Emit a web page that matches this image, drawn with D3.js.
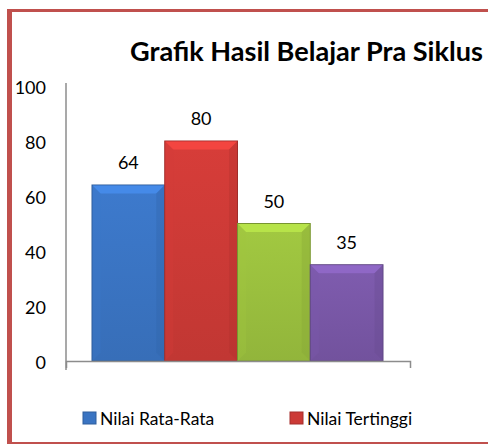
<!DOCTYPE html>
<html>
<head>
<meta charset="utf-8">
<script src="https://cdn.jsdelivr.net/npm/d3@7"></script>
<style>
  body { margin: 0; background: #fff; }
  text { font-family: Lato, "Open Sans", sans-serif; fill: #000; }
</style>
</head>
<body>
<div id="chart"></div>
<script>
// data
var barValues = [64, 80, 50, 35];
var barColors = ["#3a74c2", "#cc3a36", "#9abf3e", "#7857a6"];
var legendLabels = ["Nilai Rata-Rata", "Nilai Tertinggi"];
var yTicks = [0, 20, 40, 60, 80, 100];
var title = "Grafik Hasil Belajar Pra Siklus";

var W = 488, H = 444;
var svg = d3.select("#chart").append("svg")
  .attr("width", W).attr("height", H);

// frame (right side is cut off in the original)
svg.append("rect").attr("x", 7).attr("y", 9).attr("width", 5).attr("height", 435).attr("fill", "#c0504d");
svg.append("rect").attr("x", 7).attr("y", 9).attr("width", 481).attr("height", 3).attr("fill", "#c0504d");
svg.append("rect").attr("x", 7).attr("y", 442).attr("width", 481).attr("height", 2).attr("fill", "#c0504d");

// title, sized to the width it takes in the reference
var t = svg.append("text")
  .attr("x", 130).attr("y", 61)
  .style("font-weight", "bold")
  .style("font-size", "22px")
  .text(title);
var tw = t.node().getComputedTextLength();
t.style("font-size", (22 * 353 / tw) + "px");

var y = d3.scaleLinear().domain([0, 100]).range([361, 86]);
var x = d3.scaleBand().domain(d3.range(barValues.length)).range([92, 383]).padding(0);

// bevel gradients
var defs = svg.append("defs");
barColors.forEach(function(c, i){
  var g = defs.append("linearGradient").attr("id", "face" + i)
    .attr("x1", 0).attr("x2", 0).attr("y1", 0).attr("y2", 1);
  g.append("stop").attr("offset", "0%").attr("stop-color", d3.color(c).brighter(0.15));
  g.append("stop").attr("offset", "100%").attr("stop-color", d3.color(c).darker(0.15));
});

var bars = svg.append("g").selectAll("g")
  .data(barValues)
  .enter().append("g");

bars.append("rect")
  .attr("x", function(d, i){ return x(i); })
  .attr("y", function(d){ return y(d); })
  .attr("width", x.bandwidth())
  .attr("height", function(d){ return y(0) - y(d); })
  .attr("fill", function(d, i){ return "url(#face" + i + ")"; })
  .attr("stroke", function(d, i){ return d3.color(barColors[i]).darker(0.7); })
  .attr("stroke-width", 1);

// top bevel
bars.append("path")
  .attr("d", function(d, i){
    var x0 = x(i) + 0.5, x1 = x(i) + x.bandwidth() - 0.5, y0 = y(d) + 0.5, b = 8;
    return "M" + x0 + "," + y0 + "L" + x1 + "," + y0 + "L" + (x1 - b) + "," + (y0 + b) + "L" + (x0 + b) + "," + (y0 + b) + "Z";
  })
  .attr("fill", function(d, i){ return d3.color(barColors[i]).brighter(0.55); })
  .attr("opacity", 0.85);

// side bevels
bars.append("path")
  .attr("d", function(d, i){
    var x0 = x(i) + 0.5, y0 = y(d) + 0.5, b = 8, yb = y(0) - 0.5;
    return "M" + x0 + "," + y0 + "L" + (x0 + b) + "," + (y0 + b) + "L" + (x0 + b) + "," + (yb - b) + "L" + x0 + "," + yb + "Z";
  })
  .attr("fill", function(d, i){ return d3.color(barColors[i]).brighter(0.1); })
  .attr("opacity", 0.35);
bars.append("path")
  .attr("d", function(d, i){
    var x1 = x(i) + x.bandwidth() - 0.5, y0 = y(d) + 0.5, b = 8, yb = y(0) - 0.5;
    return "M" + x1 + "," + y0 + "L" + (x1 - b) + "," + (y0 + b) + "L" + (x1 - b) + "," + (yb - b) + "L" + x1 + "," + yb + "Z";
  })
  .attr("fill", function(d, i){ return d3.color(barColors[i]).darker(0.4); })
  .attr("opacity", 0.35);

// value labels
bars.append("text")
  .attr("x", function(d, i){ return x(i) + x.bandwidth() / 2; })
  .attr("y", function(d){ return y(d) - 16; })
  .attr("text-anchor", "middle")
  .style("font-size", "18px")
  .text(function(d){ return d; });

// y axis
var yAxis = svg.append("g")
  .attr("transform", "translate(66,0)")
  .call(d3.axisLeft(y).tickValues(yTicks).tickSize(0).tickPadding(20));
yAxis.select(".domain").attr("stroke", "#8c8c8c").attr("stroke-width", 1.5).attr("d", "M0,83V370");
yAxis.selectAll("text").style("font-size", "18px").style("font-family", "Lato, sans-serif").attr("dy", "0.4em");

// x axis
var xAxis = svg.append("g")
  .attr("transform", "translate(0," + y(0) + ")")
  .call(d3.axisBottom(d3.scaleLinear().range([66, 410])).tickValues([]).tickSizeOuter(7));
xAxis.select(".domain").attr("stroke", "#8c8c8c").attr("stroke-width", 1.5);

// legend
var lg = svg.append("g").selectAll("g")
  .data(legendLabels)
  .enter().append("g")
  .attr("transform", function(d, i){ return "translate(" + (83 + i * 207) + ",412)"; });
lg.append("rect")
  .attr("width", 13).attr("height", 12)
  .attr("fill", function(d, i){ return barColors[i]; })
  .attr("stroke", function(d, i){ return d3.color(barColors[i]).darker(0.6); });
lg.append("text")
  .attr("x", 17).attr("y", 12.5)
  .style("font-size", "17.5px")
  .text(function(d){ return d; });
</script>
</body>
</html>
